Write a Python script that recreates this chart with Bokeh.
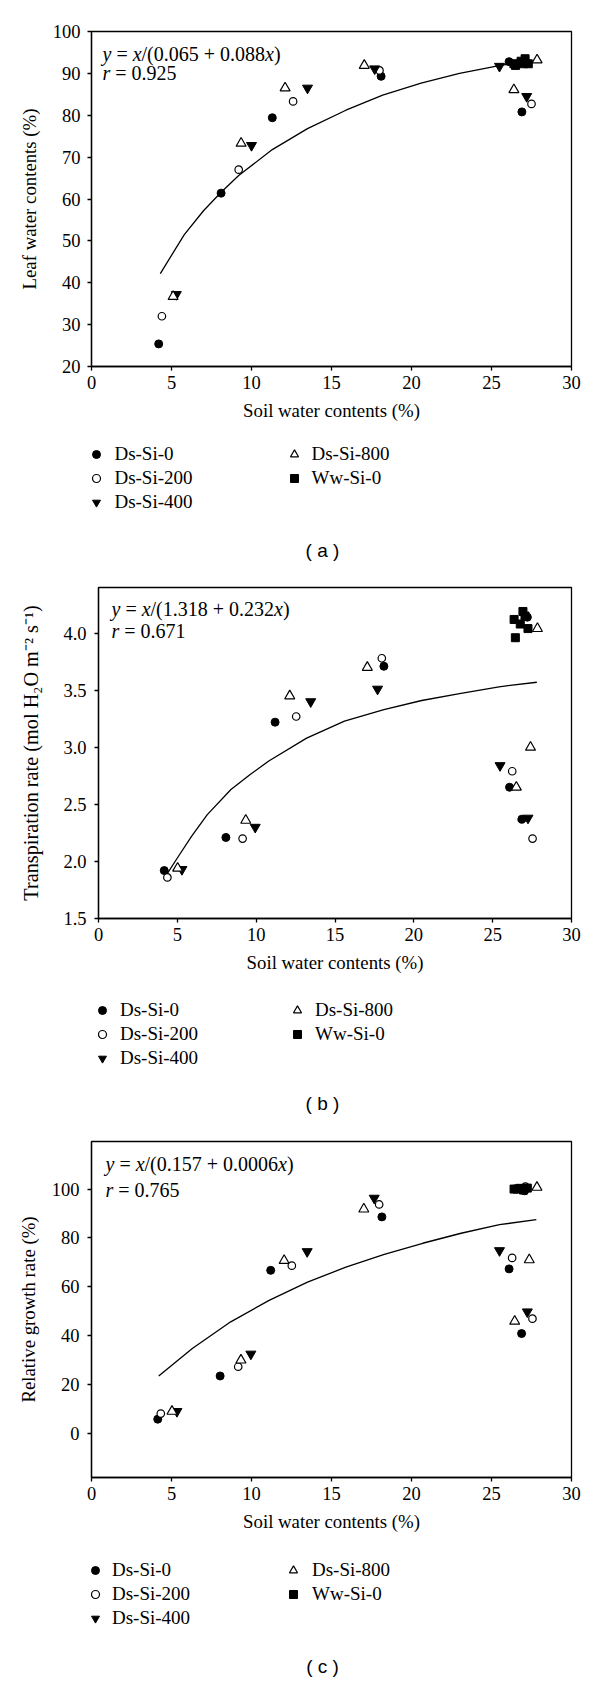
from bokeh.plotting import figure
from bokeh.models import Range1d, FixedTicker, NumeralTickFormatter, Label, Legend, LegendItem
from bokeh.layouts import column
from bokeh.embed import file_html
from bokeh.resources import INLINE

# ---------------- data ----------------
x_ticks = [0, 5, 10, 15, 20, 25, 30]
series_names = ["Ds-Si-0", "Ds-Si-200", "Ds-Si-400", "Ds-Si-800", "Ww-Si-0"]

# (a) leaf water contents
a_ds0_x = [4.2, 8.1, 11.3, 18.1, 26.1, 26.9]
a_ds0_y = [25.4, 61.4, 79.4, 89.3, 92.8, 80.8]
a_ds200_x = [4.4, 9.2, 12.6, 18.0, 27.5]
a_ds200_y = [32.0, 67.0, 83.3, 90.7, 82.7]
a_ds400_x = [5.3, 10.0, 13.5, 17.7, 25.5, 27.2]
a_ds400_y = [37.2, 72.8, 86.5, 91.1, 91.7, 84.5]
a_ds800_x = [5.1, 9.35, 12.1, 17.05, 26.4, 27.85]
a_ds800_y = [36.7, 73.3, 86.5, 91.9, 86.1, 93.2]
a_ww_x = [26.4, 26.5, 26.85, 27.0, 27.1, 27.3]
a_ww_y = [92.3, 91.9, 92.9, 92.3, 93.5, 92.3]
a_fit_x = [4.3, 5.8, 7.0, 8.1, 9.2, 11.3, 13.5, 15.9, 18.2, 20.6, 23.0, 25.4, 26.4]
a_fit_y = [42.2, 51.5, 57.2, 61.6, 65.6, 71.8, 76.8, 81.2, 84.8, 87.7, 90.0, 91.8, 92.4]
a_ticks = [20, 30, 40, 50, 60, 70, 80, 90, 100]

# (b) transpiration rate
b_ds0_x = [4.17, 8.08, 11.2, 18.1, 26.07, 26.85, 27.2]
b_ds0_y = [1.92, 2.21, 3.22, 3.71, 2.65, 2.37, 4.14]
b_ds200_x = [4.37, 9.14, 12.54, 17.97, 26.24, 27.53]
b_ds200_y = [1.86, 2.20, 3.27, 3.78, 2.79, 2.20]
b_ds400_x = [5.29, 9.94, 13.46, 17.7, 25.47, 27.24]
b_ds400_y = [1.93, 2.30, 3.40, 3.51, 2.84, 2.38]
b_ds800_x = [5.02, 9.34, 12.13, 17.05, 26.5, 27.4, 27.84]
b_ds800_y = [1.94, 2.36, 3.45, 3.70, 2.65, 3.00, 4.04]
b_ww_x = [26.36, 26.44, 26.75, 26.92, 27.05, 27.24]
b_ww_y = [4.12, 3.96, 4.08, 4.19, 4.15, 4.04]
b_fit_x = [4.3, 5.0, 5.9, 6.9, 8.4, 9.6, 10.8, 13.2, 15.6, 18.1, 20.5, 22.9, 25.4, 27.8]
b_fit_y = [1.88, 2.03, 2.22, 2.41, 2.63, 2.76, 2.88, 3.08, 3.23, 3.33, 3.41, 3.47, 3.53, 3.57]
b_ticks = [1.5, 2.0, 2.5, 3.0, 3.5, 4.0]

# (c) relative growth rate
c_ds0_x = [4.14, 8.04, 11.2, 18.15, 26.1, 26.88, 27.07]
c_ds0_y = [5.7, 23.4, 66.7, 88.6, 67.3, 40.8, 99.3]
c_ds200_x = [4.33, 9.17, 12.52, 17.98, 26.29, 27.56, 27.12]
c_ds200_y = [8.0, 27.2, 68.6, 93.7, 71.8, 46.9, 101.0]
c_ds400_x = [5.34, 9.96, 13.48, 17.67, 25.5, 27.24]
c_ds400_y = [8.9, 32.4, 74.4, 96.3, 74.8, 49.7]
c_ds800_x = [5.03, 9.34, 12.04, 17.02, 26.45, 27.36, 27.84]
c_ds800_y = [8.9, 29.9, 70.7, 91.8, 45.8, 71.0, 100.7]
c_ww_x = [26.41, 26.6, 26.77, 27.0, 27.24]
c_ww_y = [100.0, 100.0, 100.3, 99.6, 100.4]
c_fit_x = [4.2, 6.3, 8.7, 11.1, 13.5, 15.9, 18.3, 20.7, 23.1, 25.5, 27.8]
c_fit_y = [23.4, 34.7, 45.6, 54.4, 61.9, 68.0, 73.2, 77.8, 81.9, 85.4, 87.5]
c_ticks = [0, 20, 40, 60, 80, 100]

# ---------------- styling ----------------
W = 600
SERIF = "Liberation Serif"
SANS = "Liberation Sans"
STYLES = {
    "Ds-Si-0": dict(marker="circle", size=8, fill_color="black", line_color="black", line_width=1),
    "Ds-Si-200": dict(marker="circle", size=7.5, fill_color="white", line_color="black", line_width=1.2),
    "Ds-Si-400": dict(marker="inverted_triangle", size=10, fill_color="black", line_color="black", line_width=1),
    "Ds-Si-800": dict(marker="triangle", size=10, fill_color="white", line_color="black", line_width=1.2),
    "Ww-Si-0": dict(marker="square", size=8, fill_color="black", line_color="black", line_width=1),
}

TW = {' ': 0.25, '=': 0.564, '+': 0.564, '/': 0.278, '(': 0.333, ')': 0.333, '.': 0.25}
TWI = {'x': 0.444, 'y': 0.444, 'r': 0.389}


def text_w(s, italic, fs):
    w = 0.0
    for ch in s:
        if italic and ch in TWI:
            w += TWI[ch]
        elif ch.isdigit():
            w += 0.5
        else:
            w += TW.get(ch, 0.5)
    return w * fs


def add_line(p, segs, x0, y_from_top, frame_h, fs=20):
    x = x0
    for s, it in segs:
        lead = len(s) - len(s.lstrip(' '))
        core = s.strip(' ')
        xs = x + text_w(' ' * lead, False, fs)
        p.add_layout(Label(x=xs, y=frame_h - y_from_top, x_units="screen", y_units="screen",
                           text=core, text_font=SERIF, text_font_size=f"{fs}px",
                           text_font_style="italic" if it else "normal",
                           text_baseline="middle", text_align="left", text_color="black"))
        x += text_w(s, it, fs)


def main_fig(height, b_left, b_top, b_bottom, frame_h, xr, yr, yticks, ylabel,
             y_std, y_title_std, data, fit_x, fit_y, eq_mid, r_val, eq_pos, ytitle_fs="18.8px"):
    p = figure(width=W, height=height, x_range=Range1d(*xr), y_range=Range1d(*yr),
               min_border_left=b_left, min_border_right=W - 571,
               min_border_top=b_top, min_border_bottom=b_bottom,
               toolbar_location=None, output_backend="svg",
               outline_line_color="black", outline_line_width=1.3,
               background_fill_color="white", border_fill_color="white")
    p.grid.visible = False
    p.xaxis.ticker = FixedTicker(ticks=x_ticks)
    p.yaxis.ticker = FixedTicker(ticks=yticks)
    for ax in (p.xaxis[0], p.yaxis[0]):
        ax.axis_line_width = 1.3
        ax.axis_line_color = "black"
        ax.major_tick_line_width = 1.3
        ax.major_tick_line_color = "black"
        ax.major_tick_out = 4
        ax.major_tick_in = 0
        ax.minor_tick_line_color = None
        ax.major_label_text_font = SERIF
        ax.major_label_text_font_size = "18.5px"
        ax.major_label_text_color = "black"
        ax.axis_label_text_font = SERIF
        ax.axis_label_text_font_size = "18.8px"
        ax.axis_label_text_font_style = "normal"
        ax.axis_label_text_color = "black"
    p.yaxis.axis_label_text_font_size = ytitle_fs
    p.xaxis.major_label_standoff = 5
    p.xaxis.axis_label_standoff = 8
    p.yaxis.major_label_standoff = y_std
    p.yaxis.axis_label_standoff = y_title_std
    p.xaxis.axis_label = "Soil water contents (%)"
    p.yaxis.axis_label = ylabel

    p.line(fit_x, fit_y, line_color="black", line_width=1.3)
    for name, (xs, ys) in zip(series_names, data):
        p.scatter(xs, ys, **STYLES[name])

    ex, ey_eq, ey_r = eq_pos
    add_line(p, [("y", True), (" = ", False), ("x", True), (eq_mid, False), ("x", True), (")", False)],
             ex, ey_eq, frame_h)
    add_line(p, [("r", True), (" = " + r_val, False)], ex, ey_r, frame_h)
    return p


def legend_fig(height, b_left, rows, m1, t1, m2, t2, cap, cap_x, cap_y):
    # frame shares the main figure's left/right borders; positions given in page px
    lf = figure(width=W, height=height, x_range=Range1d(0, 1), y_range=Range1d(0, 1),
                min_border_left=b_left, min_border_right=W - 571,
                min_border_top=0, min_border_bottom=0,
                toolbar_location=None, output_backend="svg",
                x_axis_type=None, y_axis_type=None, outline_line_color=None,
                background_fill_color="white", border_fill_color="white")
    lf.grid.visible = False
    rs = {}
    for name in series_names:
        # legend key renderers: a single off-range sample so the key glyph is drawn
        rs[name] = lf.scatter(x=[-5], y=[-5], **STYLES[name])
    gh = 22
    sp = int(round((rows[2] - rows[0]) / 2 - gh))
    cols = [(series_names[:3], m1, t1), (series_names[3:], m2, t2)]
    for names, mx, tx in cols:
        n = len(names)
        lh = n * gh + (n - 1) * sp
        top = rows[0] - gh / 2
        leg = Legend(items=[LegendItem(label=nm, renderers=[rs[nm]]) for nm in names],
                     location=(mx - b_left - 10, height - top - lh), orientation="vertical",
                     glyph_width=20, glyph_height=gh, label_height=gh,
                     label_standoff=int(round(tx - (mx + 10))), spacing=sp, padding=0, margin=0,
                     border_line_color=None, background_fill_alpha=0,
                     label_text_font=SERIF, label_text_font_size="19px",
                     label_text_color="black")
        lf.add_layout(leg)
    lf.add_layout(Label(x=cap_x - b_left, y=height - cap_y, x_units="screen", y_units="screen",
                        text=cap, text_font=SANS, text_font_size="19px",
                        text_align="center", text_baseline="middle", text_color="black"))
    return lf


fa = main_fig(435, 91, 31, 69, 335, (0, 30), (20, 100), a_ticks, "Leaf water contents (%)",
              7, 10,
              [(a_ds0_x, a_ds0_y), (a_ds200_x, a_ds200_y), (a_ds400_x, a_ds400_y),
               (a_ds800_x, a_ds800_y), (a_ww_x, a_ww_y)],
              a_fit_x, a_fit_y, "/(0.065 + 0.088", "0.925", (11, 22.3, 41.7))
la = legend_fig(130, 91, [19, 43.5, 68], 96.4, 114, 293.5, 312, "( a )", 322, 115)

fb = main_fig(420, 98, 22, 67, 331, (0, 30), (1.5, 4.4), b_ticks,
              "Transpiration rate (mol H\u2082O m\u207b\u00b2 s\u207b\u00b9)",
              8, 18,
              [(b_ds0_x, b_ds0_y), (b_ds200_x, b_ds200_y), (b_ds400_x, b_ds400_y),
               (b_ds800_x, b_ds800_y), (b_ww_x, b_ww_y)],
              b_fit_x, b_fit_y, "/(1.318 + 0.232", "0.671", (13, 21.3, 43.7), ytitle_fs="20.3px")
fb.yaxis.formatter = NumeralTickFormatter(format="0.0")
lb = legend_fig(135, 98, [25, 48.5, 72], 102, 120, 297, 315, "( b )", 322, 118)

fc = main_fig(425, 91, 21, 68, 336, (0, 30), (-18.2, 119.5), c_ticks, "Relative growth rate (%)",
              8, 10,
              [(c_ds0_x, c_ds0_y), (c_ds200_x, c_ds200_y), (c_ds400_x, c_ds400_y),
               (c_ds800_x, c_ds800_y), (c_ww_x, c_ww_y)],
              c_fit_x, c_fit_y, "/(0.157 + 0.0006", "0.765", (14, 22.3, 48.3))
lc = legend_fig(135, 91, [25, 49, 73], 95, 112, 293, 312, "( c )", 322, 121)

roots = [column(fa, la, spacing=0), column(fb, lb, spacing=0), column(fc, lc, spacing=0)]
open("out.html", "w").write(file_html(roots, INLINE))
